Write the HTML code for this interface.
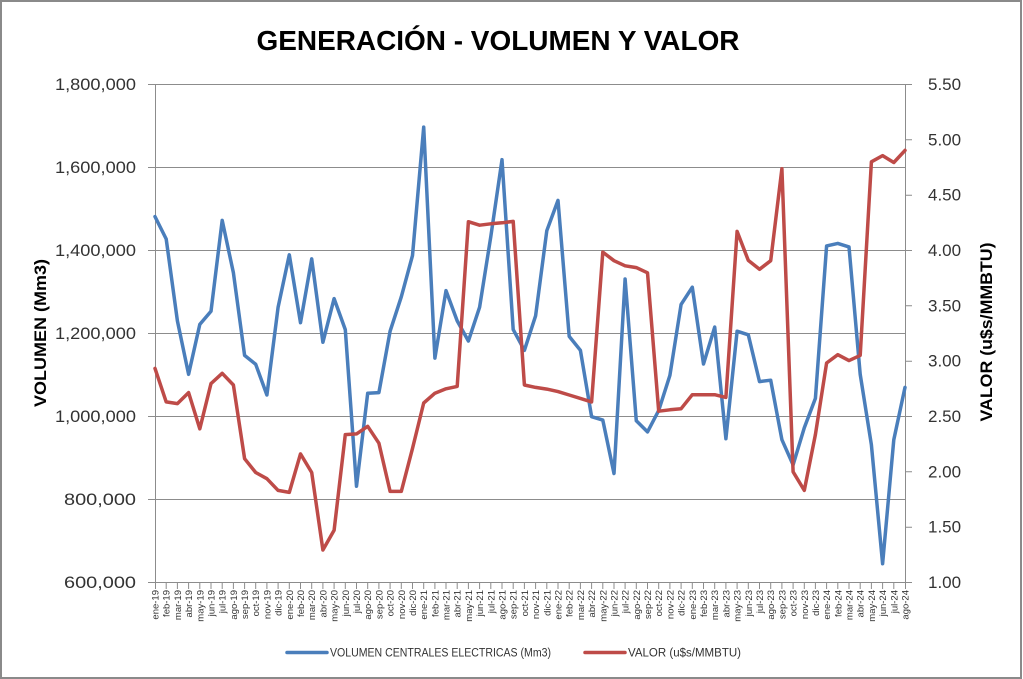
<!DOCTYPE html>
<html><head><meta charset="utf-8"><style>
html,body{margin:0;padding:0;background:#fff;}
svg{display:block;}
text{font-family:"Liberation Sans",Arial,sans-serif;}
</style></head><body>
<svg width="1023" height="679" viewBox="0 0 1023 679" xmlns="http://www.w3.org/2000/svg">
<rect x="0" y="0" width="1023" height="679" fill="#fff"/>
<rect x="1" y="1" width="1020" height="677" fill="none" stroke="#8a8a8a" stroke-width="2"/>
<text x="498" y="50" font-size="28" font-weight="bold" text-anchor="middle" textLength="483" lengthAdjust="spacingAndGlyphs" fill="#000">GENERACIÓN - VOLUMEN Y VALOR</text>
<g stroke="#8c8c8c" stroke-width="1" fill="none">
<path d="M155 84.5H905M155 167.5H905M155 250.5H905M155 333.5H905M155 416.5H905M155 499.5H905"/>
<path d="M148 84.5H155M148 167.5H155M148 250.5H155M148 333.5H155M148 416.5H155M148 499.5H155M148 582.5H155"/>
<path d="M155.5 84V582M905.5 84V582M148 582.5H905"/>
<path d="M905 84.5H912M905 139.8H912M905 195.2H912M905 250.5H912M905 305.8H912M905 361.2H912M905 416.5H912M905 471.8H912M905 527.2H912M905 582.5H912"/>
<path d="M155.5 582V589M166.2 582V589M177.4 582V589M188.6 582V589M199.8 582V589M211 582V589M222.2 582V589M233.4 582V589M244.6 582V589M255.7 582V589M266.9 582V589M278.1 582V589M289.3 582V589M300.5 582V589M311.7 582V589M322.9 582V589M334.1 582V589M345.3 582V589M356.5 582V589M367.7 582V589M378.9 582V589M390.1 582V589M401.3 582V589M412.5 582V589M423.7 582V589M434.9 582V589M446 582V589M457.2 582V589M468.4 582V589M479.6 582V589M490.8 582V589M502 582V589M513.2 582V589M524.4 582V589M535.6 582V589M546.8 582V589M558 582V589M569.2 582V589M580.4 582V589M591.6 582V589M602.8 582V589M614 582V589M625.1 582V589M636.3 582V589M647.5 582V589M658.7 582V589M669.9 582V589M681.1 582V589M692.3 582V589M703.5 582V589M714.7 582V589M725.9 582V589M737.1 582V589M748.3 582V589M759.5 582V589M770.7 582V589M781.9 582V589M793.1 582V589M804.3 582V589M815.4 582V589M826.6 582V589M837.8 582V589M849 582V589M860.2 582V589M871.4 582V589M882.6 582V589M893.8 582V589M905.5 582V589"/>
</g>
<g font-size="17" fill="#333" text-anchor="end">
<text x="136" y="90" textLength="81" lengthAdjust="spacingAndGlyphs">1,800,000</text>
<text x="136" y="173" textLength="81" lengthAdjust="spacingAndGlyphs">1,600,000</text>
<text x="136" y="256" textLength="81" lengthAdjust="spacingAndGlyphs">1,400,000</text>
<text x="136" y="339" textLength="81" lengthAdjust="spacingAndGlyphs">1,200,000</text>
<text x="136" y="422" textLength="81" lengthAdjust="spacingAndGlyphs">1,000,000</text>
<text x="136" y="505" textLength="72" lengthAdjust="spacingAndGlyphs">800,000</text>
<text x="136" y="588" textLength="72" lengthAdjust="spacingAndGlyphs">600,000</text>
</g>
<g font-size="17" fill="#333">
<text x="928" y="90">5.50</text>
<text x="928" y="145.3">5.00</text>
<text x="928" y="200.7">4.50</text>
<text x="928" y="256">4.00</text>
<text x="928" y="311.3">3.50</text>
<text x="928" y="366.7">3.00</text>
<text x="928" y="422">2.50</text>
<text x="928" y="477.3">2.00</text>
<text x="928" y="532.7">1.50</text>
<text x="928" y="588">1.00</text>
</g>
<text transform="translate(46,333) rotate(-90)" font-size="17" font-weight="bold" text-anchor="middle" textLength="148" lengthAdjust="spacingAndGlyphs" fill="#000">VOLUMEN (Mm3)</text>
<text transform="translate(992,332) rotate(-90)" font-size="17" font-weight="bold" text-anchor="middle" textLength="179" lengthAdjust="spacingAndGlyphs" fill="#000">VALOR (u$s/MMBTU)</text>
<g font-size="9.5" fill="#333" text-anchor="end">
<text transform="translate(158.5,590) rotate(-90)">ene-19</text>
<text transform="translate(169.7,590) rotate(-90)">feb-19</text>
<text transform="translate(180.9,590) rotate(-90)">mar-19</text>
<text transform="translate(192.1,590) rotate(-90)">abr-19</text>
<text transform="translate(203.3,590) rotate(-90)">may-19</text>
<text transform="translate(214.5,590) rotate(-90)">jun-19</text>
<text transform="translate(225.7,590) rotate(-90)">jul-19</text>
<text transform="translate(236.9,590) rotate(-90)">ago-19</text>
<text transform="translate(248.1,590) rotate(-90)">sep-19</text>
<text transform="translate(259.2,590) rotate(-90)">oct-19</text>
<text transform="translate(270.4,590) rotate(-90)">nov-19</text>
<text transform="translate(281.6,590) rotate(-90)">dic-19</text>
<text transform="translate(292.8,590) rotate(-90)">ene-20</text>
<text transform="translate(304,590) rotate(-90)">feb-20</text>
<text transform="translate(315.2,590) rotate(-90)">mar-20</text>
<text transform="translate(326.4,590) rotate(-90)">abr-20</text>
<text transform="translate(337.6,590) rotate(-90)">may-20</text>
<text transform="translate(348.8,590) rotate(-90)">jun-20</text>
<text transform="translate(360,590) rotate(-90)">jul-20</text>
<text transform="translate(371.2,590) rotate(-90)">ago-20</text>
<text transform="translate(382.4,590) rotate(-90)">sep-20</text>
<text transform="translate(393.6,590) rotate(-90)">oct-20</text>
<text transform="translate(404.8,590) rotate(-90)">nov-20</text>
<text transform="translate(416,590) rotate(-90)">dic-20</text>
<text transform="translate(427.2,590) rotate(-90)">ene-21</text>
<text transform="translate(438.4,590) rotate(-90)">feb-21</text>
<text transform="translate(449.5,590) rotate(-90)">mar-21</text>
<text transform="translate(460.7,590) rotate(-90)">abr-21</text>
<text transform="translate(471.9,590) rotate(-90)">may-21</text>
<text transform="translate(483.1,590) rotate(-90)">jun-21</text>
<text transform="translate(494.3,590) rotate(-90)">jul-21</text>
<text transform="translate(505.5,590) rotate(-90)">ago-21</text>
<text transform="translate(516.7,590) rotate(-90)">sep-21</text>
<text transform="translate(527.9,590) rotate(-90)">oct-21</text>
<text transform="translate(539.1,590) rotate(-90)">nov-21</text>
<text transform="translate(550.3,590) rotate(-90)">dic-21</text>
<text transform="translate(561.5,590) rotate(-90)">ene-22</text>
<text transform="translate(572.7,590) rotate(-90)">feb-22</text>
<text transform="translate(583.9,590) rotate(-90)">mar-22</text>
<text transform="translate(595.1,590) rotate(-90)">abr-22</text>
<text transform="translate(606.3,590) rotate(-90)">may-22</text>
<text transform="translate(617.5,590) rotate(-90)">jun-22</text>
<text transform="translate(628.6,590) rotate(-90)">jul-22</text>
<text transform="translate(639.8,590) rotate(-90)">ago-22</text>
<text transform="translate(651,590) rotate(-90)">sep-22</text>
<text transform="translate(662.2,590) rotate(-90)">oct-22</text>
<text transform="translate(673.4,590) rotate(-90)">nov-22</text>
<text transform="translate(684.6,590) rotate(-90)">dic-22</text>
<text transform="translate(695.8,590) rotate(-90)">ene-23</text>
<text transform="translate(707,590) rotate(-90)">feb-23</text>
<text transform="translate(718.2,590) rotate(-90)">mar-23</text>
<text transform="translate(729.4,590) rotate(-90)">abr-23</text>
<text transform="translate(740.6,590) rotate(-90)">may-23</text>
<text transform="translate(751.8,590) rotate(-90)">jun-23</text>
<text transform="translate(763,590) rotate(-90)">jul-23</text>
<text transform="translate(774.2,590) rotate(-90)">ago-23</text>
<text transform="translate(785.4,590) rotate(-90)">sep-23</text>
<text transform="translate(796.6,590) rotate(-90)">oct-23</text>
<text transform="translate(807.8,590) rotate(-90)">nov-23</text>
<text transform="translate(818.9,590) rotate(-90)">dic-23</text>
<text transform="translate(830.1,590) rotate(-90)">ene-24</text>
<text transform="translate(841.3,590) rotate(-90)">feb-24</text>
<text transform="translate(852.5,590) rotate(-90)">mar-24</text>
<text transform="translate(863.7,590) rotate(-90)">abr-24</text>
<text transform="translate(874.9,590) rotate(-90)">may-24</text>
<text transform="translate(886.1,590) rotate(-90)">jun-24</text>
<text transform="translate(897.3,590) rotate(-90)">jul-24</text>
<text transform="translate(908.5,590) rotate(-90)">ago-24</text>
</g>
<polyline fill="none" stroke="#4a7ebb" stroke-width="3.5" stroke-linejoin="round" stroke-linecap="round" points="155,216.6 166.2,239 177.4,320.9 188.6,374.3 199.8,324.4 211,311.3 222.2,220.4 233.4,272.8 244.6,355.4 255.7,364.3 266.9,395 278.1,307.2 289.3,254.8 300.5,322.7 311.7,258.9 322.9,342.3 334.1,298.6 345.3,329.6 356.5,486.2 367.7,393.2 378.9,392.6 390.1,331.2 401.3,296.8 412.5,255.5 423.7,127.1 434.9,358.1 446,290.6 457.2,320.9 468.4,341 479.6,307.2 490.8,236.6 502,159.7 513.2,329.6 524.4,350.3 535.6,315.8 546.8,230.7 558,200.4 569.2,336.4 580.4,350.3 591.6,416.7 602.8,420.1 614,473.5 625.1,279 636.3,420.8 647.5,431.9 658.7,410.5 669.9,375.4 681.1,304.4 692.3,287.2 703.5,364 714.7,327.1 725.9,438.7 737.1,331.2 748.3,334.8 759.5,381.6 770.7,380.2 781.9,439.7 793.1,464.9 804.3,427.7 815.4,398.4 826.6,245.9 837.8,243.4 849,246.9 860.2,374.3 871.4,444.9 882.6,563.7 893.8,439.7 905,387.4"/>
<polyline fill="none" stroke="#be4b48" stroke-width="3.5" stroke-linejoin="round" stroke-linecap="round" points="155,368.4 166.2,401.9 177.4,403.6 188.6,392.6 199.8,428.8 211,383.6 222.2,373.3 233.4,385 244.6,458.7 255.7,472.5 266.9,478.7 278.1,490.4 289.3,492.4 300.5,453.9 311.7,472.5 322.9,550 334.1,530.3 345.3,434.6 356.5,433.9 367.7,426.3 378.9,443.2 390.1,491.4 401.3,491.4 412.5,448.4 423.7,403 434.9,393.2 446,388.8 457.2,386.4 468.4,221.7 479.6,225.2 490.8,223.8 502,222.8 513.2,221.4 524.4,385 535.6,387.4 546.8,389.1 558,391.6 569.2,395 580.4,398.4 591.6,401.9 602.8,252.1 614,260.7 625.1,265.8 636.3,267.6 647.5,272.8 658.7,411.2 669.9,409.8 681.1,408.7 692.3,394.7 703.5,394.7 714.7,394.7 725.9,397.4 737.1,231.4 748.3,260.4 759.5,269.3 770.7,260.7 781.9,168.7 793.1,471.8 804.3,490.4 815.4,434.6 826.6,363 837.8,354.7 849,360.6 860.2,355.4 871.4,161.8 882.6,155.6 893.8,162.5 905,150.4"/>
<line x1="287" y1="652.5" x2="327" y2="652.5" stroke="#4a7ebb" stroke-width="3.5" stroke-linecap="round"/>
<text x="330" y="656.5" font-size="11.5" fill="#333" textLength="221" lengthAdjust="spacingAndGlyphs">VOLUMEN CENTRALES ELECTRICAS (Mm3)</text>
<line x1="585" y1="652.5" x2="625" y2="652.5" stroke="#be4b48" stroke-width="3.5" stroke-linecap="round"/>
<text x="628" y="656.5" font-size="11.5" fill="#333" textLength="113" lengthAdjust="spacingAndGlyphs">VALOR (u$s/MMBTU)</text>
</svg>
</body></html>
